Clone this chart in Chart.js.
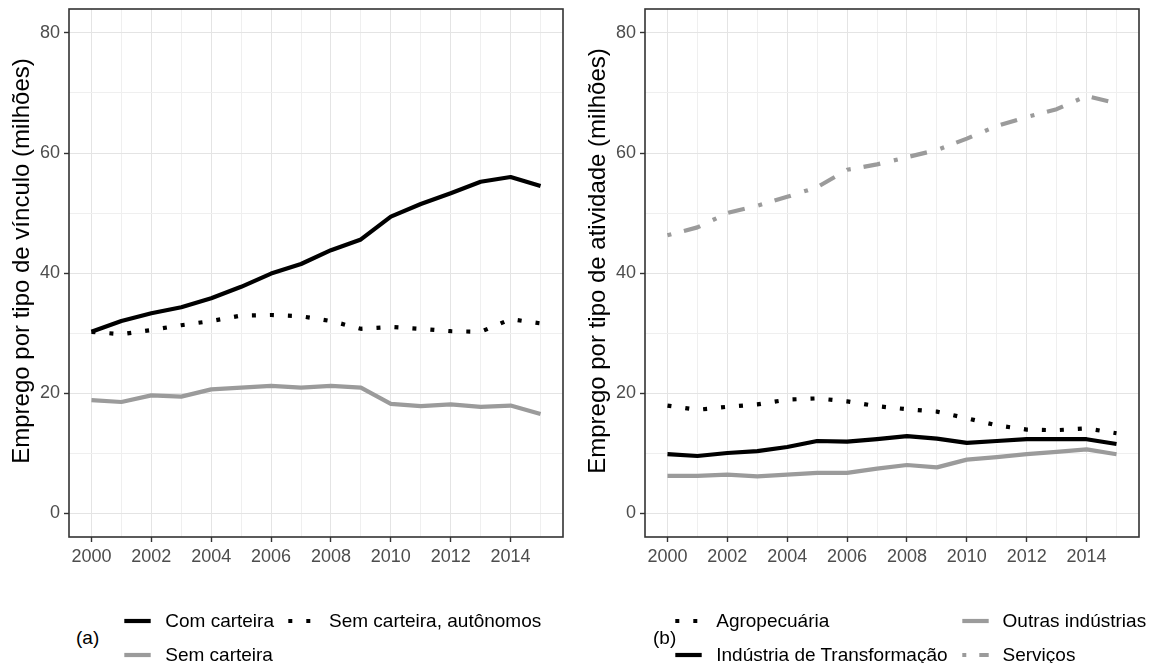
<!DOCTYPE html>
<html lang="pt">
<head>
<meta charset="utf-8">
<title>Emprego por tipo de vínculo e de atividade</title>
<script src="https://cdn.jsdelivr.net/npm/chart.js@4.4.1/dist/chart.umd.min.js"></script>
<style>
  html, body { margin: 0; padding: 0; background: #fff; }
  body { width: 1157px; height: 663px; position: relative; overflow: hidden;
         font-family: "Liberation Sans", Arial, sans-serif; }
  canvas { position: absolute; top: 0; }
  #chartA { left: 0; }
  #chartB { left: 580px; }
  .legend { position: absolute; top: 604px; display: flex; align-items: center; color: #000; font-size: 19px; }
  .legend .items { display: grid; grid-auto-flow: column; grid-template-rows: 34px 34px; column-gap: 11px; }
  .legend .item { display: flex; align-items: center; white-space: nowrap; }
  .legend .item canvas { position: static; margin-right: 11px; }
</style>
</head>
<body>
<canvas id="chartA" width="580" height="590"></canvas>
<canvas id="chartB" width="577" height="590"></canvas>
<div class="legend" id="legA" style="left:76px"><span class="ttl" style="margin-right:22px">(a)</span><div class="items"></div></div>
<div class="legend" id="legB" style="left:653px"><span class="ttl" style="margin-right:-4px">(b)</span><div class="items"></div></div>
<script>
// Anos da série
const years = [2000, 2001, 2002, 2003, 2004, 2005, 2006, 2007, 2008, 2009, 2010, 2011, 2012, 2013, 2014, 2015];

// (a) Emprego por tipo de vínculo, milhões
const comCarteira   = [30.2, 32.0, 33.3, 34.3, 35.8, 37.7, 39.9, 41.5, 43.8, 45.6, 49.4, 51.5, 53.3, 55.2, 56.0, 54.5];
const semCarteira   = [18.8, 18.5, 19.6, 19.4, 20.6, 20.9, 21.2, 20.9, 21.2, 20.9, 18.2, 17.8, 18.1, 17.7, 17.9, 16.5];
const semCarteiraAutonomos = [30.2, 29.8, 30.5, 31.3, 32.0, 32.9, 33.0, 32.8, 32.0, 30.7, 31.0, 30.7, 30.3, 30.2, 32.3, 31.6];

// (b) Emprego por tipo de atividade, milhões
const agropecuaria  = [17.9, 17.2, 17.7, 18.1, 18.9, 19.1, 18.6, 17.8, 17.3, 16.9, 15.8, 14.6, 13.9, 13.8, 14.1, 13.3];
const industriaTransformacao = [9.8, 9.5, 10.0, 10.3, 11.0, 12.0, 11.9, 12.3, 12.8, 12.4, 11.7, 12.0, 12.3, 12.3, 12.3, 11.5];
const outrasIndustrias = [6.2, 6.2, 6.4, 6.1, 6.4, 6.7, 6.7, 7.4, 8.0, 7.6, 8.9, 9.3, 9.8, 10.2, 10.6, 9.8];
const servicos      = [46.3, 47.6, 50.0, 51.2, 52.7, 54.3, 57.2, 58.1, 59.3, 60.5, 62.4, 64.5, 66.0, 67.3, 69.5, 68.3];

// Marcas dos eixos
const xLabelYears = [2000, 2002, 2004, 2006, 2008, 2010, 2012, 2014];
const yLabels = [0, 20, 40, 60, 80];
const yGrid = [0, 10, 20, 30, 40, 50, 60, 70, 80];

const FONT = '"Liberation Sans", Arial, sans-serif';
const BLACK = '#000000';
const GREY = '#9b9b9b';
const SOLID = [];
const DOTTED = [4, 14];
const DOTDASH = [4, 13, 17, 14];

function series(label, data, color, dash) {
  return {
    label, data: data.map((v, i) => ({ x: years[i], y: v })),
    borderColor: color, backgroundColor: color, borderWidth: 4.2,
    borderDash: dash, borderCapStyle: 'butt', borderJoinStyle: 'round',
    pointRadius: 0, tension: 0, fill: false
  };
}

// moldura do painel (estilo theme_bw)
const panelBorder = {
  id: 'panelBorder',
  afterDatasetsDraw(chart) {
    const { ctx, chartArea: a } = chart;
    ctx.save();
    ctx.strokeStyle = '#333333';
    ctx.lineWidth = 1.6;
    ctx.strokeRect(a.left, a.top, a.right - a.left, a.bottom - a.top);
    ctx.restore();
  }
};

// título vertical do eixo y
const yAxisTitle = {
  id: 'yAxisTitle',
  afterDraw(chart, args, opts) {
    const { ctx } = chart;
    ctx.save();
    ctx.translate(opts.x, opts.y);
    ctx.rotate(-Math.PI / 2);
    ctx.font = opts.size + 'px ' + FONT;
    ctx.fillStyle = '#000000';
    ctx.textAlign = 'center';
    ctx.textBaseline = 'middle';
    ctx.fillText(opts.text, 0, 0);
    ctx.restore();
  }
};

function panelOptions(yTitle, axisWidth, rightPad, titleX) {
  return {
    responsive: false,
    animation: false,
    events: [],
    layout: { padding: { left: 0, right: rightPad, top: 9, bottom: 0 } },
    plugins: {
      legend: { display: false }, tooltip: { enabled: false },
      yAxisTitle: { text: yTitle, x: titleX, y: 261, size: 24 }
    },
    scales: {
      x: {
        type: 'linear', min: 1999.25, max: 2015.75,
        afterBuildTicks: s => { s.ticks = years.map(v => ({ value: v })); },
        afterFit: s => { s.height = 590 - 537; s.paddingLeft = 0; s.paddingRight = 0; },
        ticks: {
          autoSkip: false, maxRotation: 0, minRotation: 0, padding: 4,
          color: '#4d4d4d', font: { family: FONT, size: 18 },
          callback: v => xLabelYears.includes(v) ? String(v) : ''
        },
        grid: {
          color: c => (c.tick && xLabelYears.includes(c.tick.value)) ? '#e4e4e4' : '#efefef',
          lineWidth: 1, tickLength: 5, tickWidth: 1.4,
          tickColor: c => (c.tick && xLabelYears.includes(c.tick.value)) ? '#333333' : 'rgba(0,0,0,0)'
        },
        border: { display: false }
      },
      y: {
        type: 'linear', min: -4, max: 84,
        afterBuildTicks: s => { s.ticks = yGrid.map(v => ({ value: v })); },
        afterFit: s => { s.width = axisWidth; s.paddingTop = 0; s.paddingBottom = 0; },
        ticks: {
          autoSkip: false, padding: 4,
          color: '#4d4d4d', font: { family: FONT, size: 18 },
          callback: v => yLabels.includes(v) ? String(v) : ''
        },
        grid: {
          color: c => (c.tick && yLabels.includes(c.tick.value)) ? '#e4e4e4' : '#efefef',
          lineWidth: 1, tickLength: 5, tickWidth: 1.4,
          tickColor: c => (c.tick && yLabels.includes(c.tick.value)) ? '#333333' : 'rgba(0,0,0,0)'
        },
        border: { display: false }
      }
    }
  };
}

const chartA = new Chart(document.getElementById('chartA'), {
  type: 'line',
  data: {
    datasets: [
      series('Com carteira', comCarteira, BLACK, SOLID),
      series('Sem carteira', semCarteira, GREY, SOLID),
      series('Sem carteira, autônomos', semCarteiraAutonomos, BLACK, DOTTED)
    ]
  },
  options: panelOptions('Emprego por tipo de vínculo (milhões)', 69, 17, 22),
  plugins: [panelBorder, yAxisTitle]
});

const chartB = new Chart(document.getElementById('chartB'), {
  type: 'line',
  data: {
    datasets: [
      series('Agropecuária', agropecuaria, BLACK, DOTTED),
      series('Indústria de Transformação', industriaTransformacao, BLACK, SOLID),
      series('Outras indústrias', outrasIndustrias, GREY, SOLID),
      series('Serviços', servicos, GREY, DOTDASH)
    ]
  },
  options: panelOptions('Emprego por tipo de atividade (milhões)', 65, 18, 18),
  plugins: [panelBorder, yAxisTitle]
});

// legenda com chaves desenhadas a partir dos próprios conjuntos de dados
function buildLegend(chart, id) {
  const box = document.querySelector('#' + id + ' .items');
  chart.data.datasets.forEach(ds => {
    const item = document.createElement('div');
    item.className = 'item';
    const key = document.createElement('canvas');
    key.width = 33; key.height = 34;
    const k = key.getContext('2d');
    k.strokeStyle = ds.borderColor;
    k.lineWidth = ds.borderWidth;
    k.lineCap = 'butt';
    k.setLineDash(ds.borderDash);
    k.beginPath();
    k.moveTo(3.3, 17);
    k.lineTo(29.7, 17);
    k.stroke();
    const txt = document.createElement('span');
    txt.textContent = ds.label;
    item.appendChild(key);
    item.appendChild(txt);
    box.appendChild(item);
  });
}
buildLegend(chartA, 'legA');
buildLegend(chartB, 'legB');
</script>
</body>
</html>
